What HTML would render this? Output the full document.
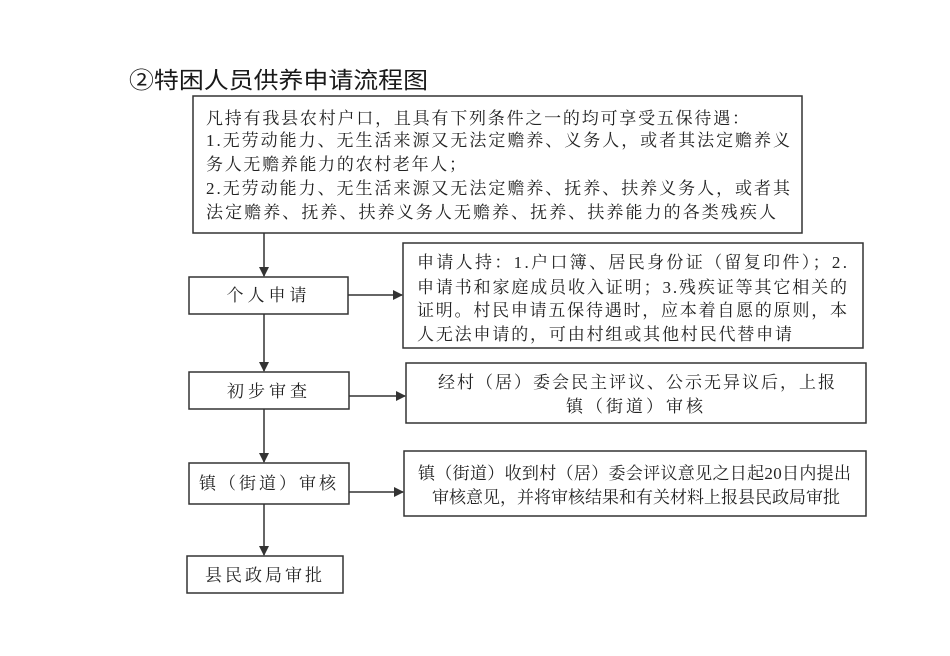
<!DOCTYPE html>
<html><head><meta charset="utf-8"><style>
html,body{margin:0;padding:0;background:#fff;}
svg{display:block;}
text{font-family:"Liberation Serif","Noto Serif CJK SC","Noto Sans CJK SC",serif;fill:#222;font-size:17px;}
.t{font-family:"Liberation Sans","Noto Sans CJK SC",sans-serif;font-size:23px;fill:#1a1a1a;}
rect{fill:none;stroke:#333;stroke-width:1.5;}
line{stroke:#333;stroke-width:1.5;}
</style></head><body>
<svg width="950" height="656" viewBox="0 0 950 656" xmlns="http://www.w3.org/2000/svg">
<defs><marker id="a" markerWidth="10" markerHeight="10" refX="9" refY="5" orient="auto" markerUnits="userSpaceOnUse"><path d="M0,0 L10,5 L0,10 z" fill="#333"/></marker></defs>
<text class="t" x="129" y="88" textLength="299" lengthAdjust="spacingAndGlyphs">②特困人员供养申请流程图</text>

<rect x="193" y="96" width="609" height="137"/>
<text x="206" y="124" textLength="543">凡持有我县农村户口，且具有下列条件之一的均可享受五保待遇：</text>
<text x="206" y="146" textLength="584">1.无劳动能力、无生活来源又无法定赡养、义务人，或者其法定赡养义</text>
<text x="206" y="170" textLength="260">务人无赡养能力的农村老年人；</text>
<text x="206" y="194" textLength="584">2.无劳动能力、无生活来源又无法定赡养、抚养、扶养义务人，或者其</text>
<text x="206" y="218" textLength="570">法定赡养、抚养、扶养义务人无赡养、抚养、扶养能力的各类残疾人</text>

<line x1="264" y1="233" x2="264" y2="276" marker-end="url(#a)"/>
<rect x="189" y="277" width="159" height="37"/>
<text x="268.5" y="301" text-anchor="middle" letter-spacing="4">个人申请</text>
<line x1="348" y1="295" x2="402" y2="295" marker-end="url(#a)"/>
<rect x="403" y="243" width="460" height="105"/>
<text x="417" y="268" textLength="430">申请人持：1.户口簿、居民身份证（留复印件）；2.</text>
<text x="417" y="293" textLength="430">申请书和家庭成员收入证明；3.残疾证等其它相关的</text>
<text x="417" y="316" textLength="430">证明。村民申请五保待遇时，应本着自愿的原则，本</text>
<text x="417" y="340" textLength="375">人无法申请的，可由村组或其他村民代替申请</text>

<line x1="264" y1="314" x2="264" y2="371" marker-end="url(#a)"/>
<rect x="189" y="372" width="160" height="37"/>
<text x="269" y="397" text-anchor="middle" letter-spacing="4">初步审查</text>
<line x1="349" y1="396" x2="405" y2="396" marker-end="url(#a)"/>
<rect x="406" y="363" width="460" height="60"/>
<text x="438" y="388" textLength="397">经村（居）委会民主评议、公示无异议后，上报</text>
<text x="636" y="412" text-anchor="middle" letter-spacing="3">镇（街道）审核</text>

<line x1="264" y1="409" x2="264" y2="462" marker-end="url(#a)"/>
<rect x="189" y="463" width="160" height="41"/>
<text x="269" y="489" text-anchor="middle" letter-spacing="3">镇（街道）审核</text>
<line x1="349" y1="492" x2="403" y2="492" marker-end="url(#a)"/>
<rect x="404" y="451" width="462" height="65"/>
<text x="418" y="479" textLength="433">镇（街道）收到村（居）委会评议意见之日起20日内提出</text>
<text x="432" y="503" textLength="408">审核意见，并将审核结果和有关材料上报县民政局审批</text>

<line x1="264" y1="504" x2="264" y2="555" marker-end="url(#a)"/>
<rect x="187" y="556" width="156" height="37"/>
<text x="265" y="581" text-anchor="middle" letter-spacing="3">县民政局审批</text>
</svg>
</body></html>
